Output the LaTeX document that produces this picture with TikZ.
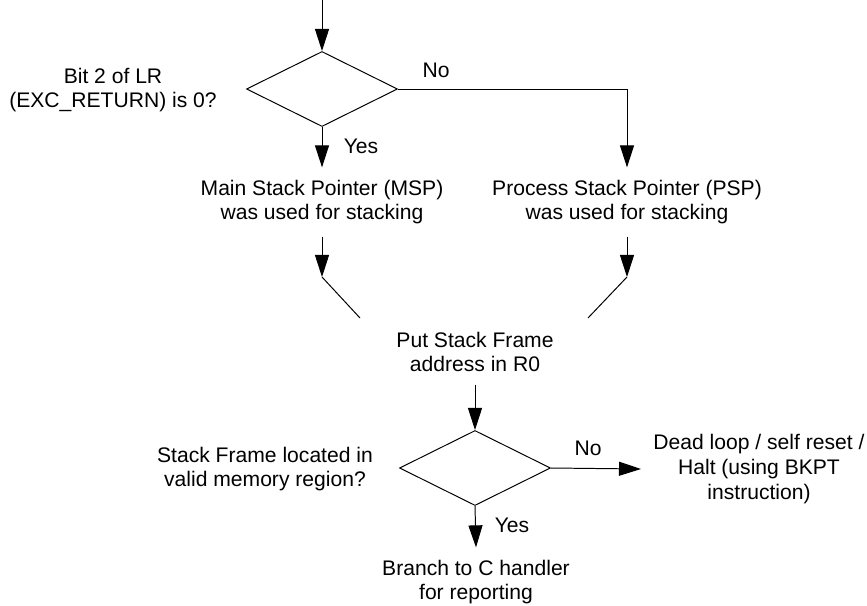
\documentclass[tikz,border=0pt]{standalone}
\usepackage{fontspec}
\setmainfont{Liberation Sans}
\usetikzlibrary{arrows.meta}
\usetikzlibrary{shapes.geometric}
\usetikzlibrary{calc}

\begin{document}
\begin{tikzpicture}[x=0.025cm, y=-0.025cm, line width=0.7pt,
    >={Triangle[length=0.55cm,width=0.35cm]},
    decision/.style={diamond, draw, minimum width=3.775cm, minimum height=1.875cm, inner sep=0pt},
    txt/.style={align=center, inner sep=0.3cm, font=\fontsize{15}{17.5}\selectfont},
    tag/.style={inner sep=0pt, font=\fontsize{15}{17.5}\selectfont}]
    \useasboundingbox (0,0) rectangle (867,605);

    % first decision: which stack pointer
    \coordinate (start) at (322,0);
    \node [decision] (bitcheck) at (322,89) {};
    \node [txt] (bitq) at (113,90) {Bit 2 of LR\\(EXC\_RETURN) is 0?};
    \node [txt] (msp) at (322,202) {Main Stack Pointer (MSP)\\was used for stacking};
    \node [txt] (psp) at (627,202) {Process Stack Pointer (PSP)\\was used for stacking};
    \node [tag] (no1) at (436,70) {No};
    \node [tag] (yes1) at (361,146) {Yes};

    % both paths join
    \node [txt] (frame) at (475,352) {Put Stack Frame\\address in R0};
    \coordinate (kinkL) at (322,277);
    \coordinate (kinkR) at (627,277);
    \coordinate (joinL) at (360,318);
    \coordinate (joinR) at (588,318);

    % second decision: frame check
    \node [decision] (framecheck) at (475,468) {};
    \node [txt] (frameq) at (265,469) {Stack Frame located in\\valid memory region?};
    \node [txt] (dead) at (759,469) {Dead loop / self reset /\\Halt (using BKPT\\instruction)};
    \node [txt] (branch) at (476,582) {Branch to C handler\\for reporting};
    \node [tag] (no2) at (588,448) {No};
    \node [tag] (yes2) at (512,525) {Yes};

    \draw [->] (start) -- (bitcheck.north);
    \draw [->] (bitcheck.south) -- (msp.north);
    \draw [->] (bitcheck.east) -| (psp.north);
    \draw [->] (msp.south) -- (kinkL);
    \draw [->] (psp.south) -- (kinkR);
    \draw (kinkL) -- (joinL);
    \draw (kinkR) -- (joinR);
    \draw [->] (frame.south) -- (framecheck.north);
    \draw [->] (framecheck.east) -- (dead.west);
    \draw [->] (framecheck.south) -- (branch.north);
\end{tikzpicture}
\end{document}
